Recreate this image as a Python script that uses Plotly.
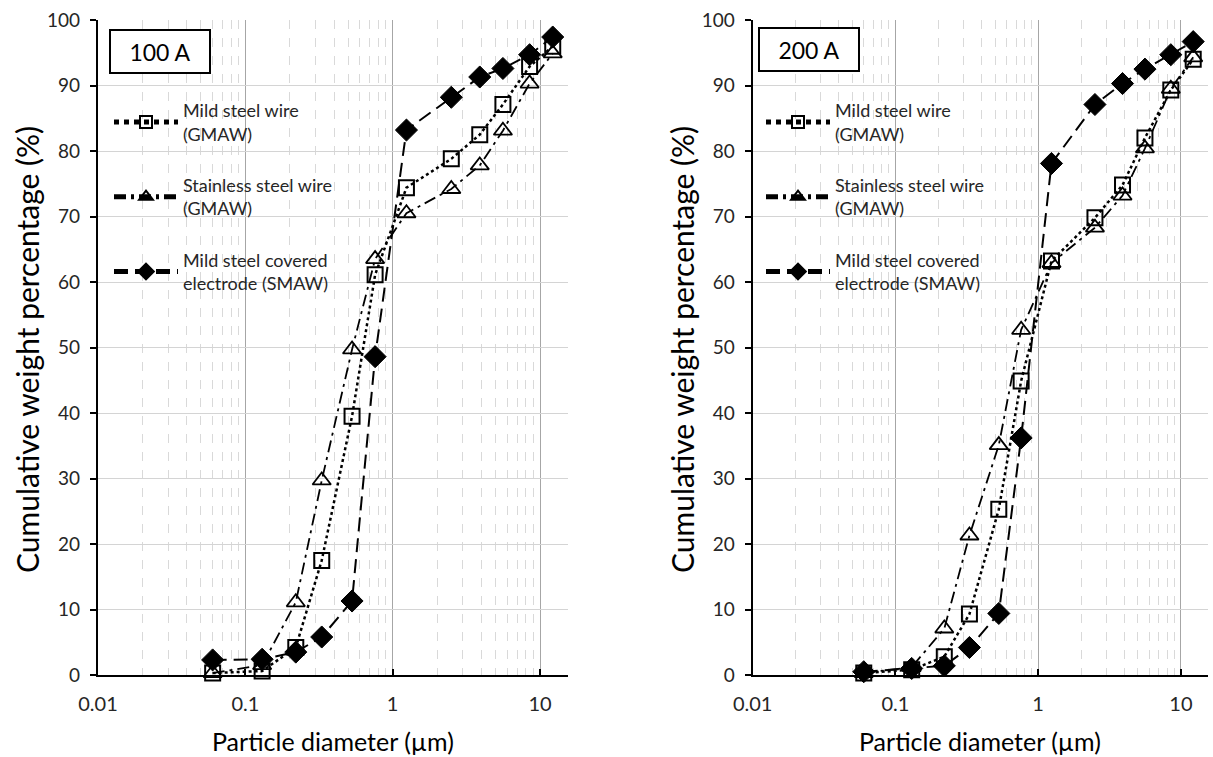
import plotly.graph_objects as go

# Particle diameter (µm) - stage diameters
diam = [0.06, 0.13, 0.22, 0.33, 0.53, 0.76, 1.24, 2.5, 3.9, 5.6, 8.5, 12.2]

# 100 A
mild_wire_100 = [0.3, 0.6, 4.2, 17.5, 39.5, 61.1, 74.4, 78.8, 82.5, 87.1, 92.9, 96.0]
stainless_100 = [0.3, 1.5, 11.1, 29.7, 49.7, 63.5, 70.5, 74.2, 77.8, 83.1, 90.3, 94.9]
covered_100 = [2.3, 2.4, 3.5, 5.8, 11.3, 48.6, 83.2, 88.2, 91.3, 92.6, 94.7, 97.4]

# 200 A
mild_wire_200 = [0.3, 0.8, 2.8, 9.3, 25.3, 44.9, 63.2, 69.8, 74.8, 82.0, 89.3, 94.0]
stainless_200 = [0.3, 1.2, 7.1, 21.3, 35.1, 52.7, 62.9, 68.3, 73.2, 80.4, 89.5, 94.3]
covered_200 = [0.5, 1.0, 1.4, 4.2, 9.4, 36.2, 78.1, 87.1, 90.3, 92.5, 94.7, 96.7]

series_names = ["Mild steel wire<br>(GMAW)", "Stainless steel wire<br>(GMAW)",
                "Mild steel covered<br>electrode (SMAW)"]
panel_labels = ["100 A", "200 A"]
x_ticks = [0.01, 0.1, 1, 10]
x_tick_text = ["0.01", "0.1", "1", "10"]
y_ticks = [0, 10, 20, 30, 40, 50, 60, 70, 80, 90, 100]
minor_vals = [m * 10 ** e for e in (-2, -1, 0, 1) for m in range(2, 10) if m * 10 ** e < 16]

FONT = "Lato, 'Open Sans', sans-serif"
TXT = "#262626"

styles = [
    dict(line=dict(color="black", width=2.5, dash="dot"),
         marker=dict(symbol="square-open", size=15, color="black", line=dict(width=2))),
    dict(line=dict(color="black", width=1.8, dash="12px,5px,3px,5px"),
         marker=dict(symbol="triangle-up-open", size=16, color="black", line=dict(width=1.8))),
    dict(line=dict(color="black", width=2, dash="14px,7px"),
         marker=dict(symbol="diamond", size=17, color="black", line=dict(width=1, color="black"))),
]

fig = go.Figure()
panels = [(mild_wire_100, stainless_100, covered_100), (mild_wire_200, stainless_200, covered_200)]
for p, data in enumerate(panels):
    xa = "x" if p == 0 else "x2"
    ya = "y" if p == 0 else "y2"
    leg = "legend" if p == 0 else "legend2"
    for i, vals in enumerate(data):
        fig.add_trace(go.Scatter(
            x=diam, y=vals, mode="lines+markers", name=series_names[i],
            xaxis=xa, yaxis=ya, legend=leg, legendgroup=f"p{p}s{i}",
            cliponaxis=False, **styles[i]))

W, H = 1213, 757
dom_x = [[98 / W, 568 / W], [752.7 / W, 1208 / W]]
dom_y = [1 - 675 / H, 1 - 20 / H]

xcommon = dict(type="log", range=[-2, 1.19], tickvals=x_ticks, ticktext=x_tick_text,
               showgrid=True, gridcolor="#a6a6a6", gridwidth=1.2, automargin=False,
               minor=dict(tickvals=minor_vals, showgrid=True, gridcolor="#d9d9d9",
                          griddash="dash", gridwidth=1),
               showline=True, linecolor="black", linewidth=2.2,
               ticks="inside", ticklen=6, tickcolor="black", tickwidth=1.5,
               ticklabelstandoff=10,
               tickfont=dict(family=FONT, size=20, color=TXT), zeroline=False)
ycommon = dict(range=[0, 100], tickvals=y_ticks, showgrid=True, gridcolor="#d4d4d4",
               gridwidth=1, showline=True, linecolor="black", linewidth=2.2,
               ticks="outside", ticklen=6, tickcolor="black", tickwidth=2, automargin=False,
               ticklabelstandoff=6,
               tickfont=dict(family=FONT, size=19, color=TXT), zeroline=False)

legend_common = dict(xanchor="left", yanchor="top", bgcolor="rgba(0,0,0,0)",
                     traceorder="grouped", tracegroupgap=25, itemsizing="constant",
                     itemwidth=64,
                     font=dict(family=FONT, size=18, color=TXT))
fig.update_layout(
    width=W, height=H, margin=dict(l=0, r=0, t=0, b=0, autoexpand=False),
    paper_bgcolor="white", plot_bgcolor="white",
    xaxis=dict(domain=dom_x[0], anchor="y", **xcommon),
    yaxis=dict(domain=dom_y, anchor="x", **ycommon),
    xaxis2=dict(domain=dom_x[1], anchor="y2", **xcommon),
    yaxis2=dict(domain=dom_y, anchor="x2", **ycommon),
    legend=dict(x=109 / W, y=1 - 92 / H, **legend_common),
    legend2=dict(x=761 / W, y=1 - 92 / H, **legend_common),
    showlegend=True,
)

annotations = []
box_pos = [(160 / W, 1 - 51 / H), (809 / W, 1 - 50 / H)]
for p in range(2):
    annotations.append(dict(text=panel_labels[p], x=box_pos[p][0], y=box_pos[p][1],
                            xref="paper", yref="paper", showarrow=False,
                            xanchor="center", yanchor="middle",
                            font=dict(family=FONT, size=23, color="black"),
                            bordercolor="black", borderwidth=2, borderpad=6,
                            bgcolor="white", width=86, height=29))
ytitle_x = [27 / W, 682 / W]
xtitle_x = [333 / W, 980 / W]
for p in range(2):
    annotations.append(dict(text="Cumulative weight percentage (%)", x=ytitle_x[p], y=1 - 350 / H,
                            xref="paper", yref="paper", showarrow=False, textangle=-90,
                            xanchor="center", yanchor="middle",
                            font=dict(family=FONT, size=30, color="black")))
    annotations.append(dict(text="Particle diameter (µm)", x=xtitle_x[p], y=1 - 741 / H,
                            xref="paper", yref="paper", showarrow=False,
                            xanchor="center", yanchor="middle",
                            font=dict(family=FONT, size=25, color="black")))
fig.update_layout(annotations=annotations)

fig.write_html("out.html", config={"displayModeBar": False},
               post_script="document.body.style.margin='0';document.body.style.overflow='hidden';")
